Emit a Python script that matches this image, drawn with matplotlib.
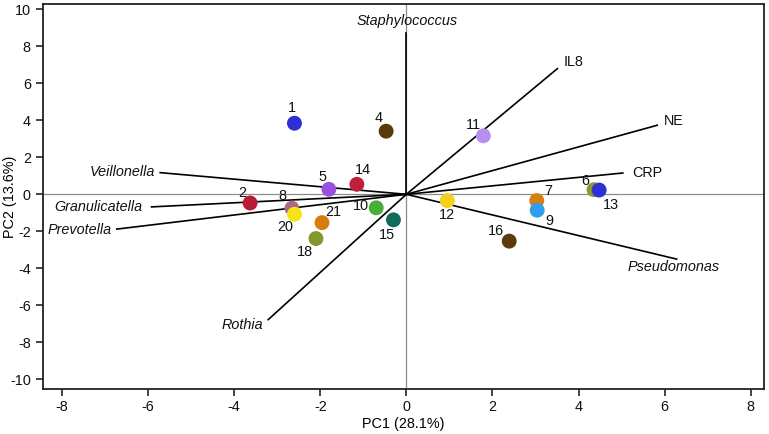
import matplotlib
matplotlib.use("Agg")
import matplotlib.pyplot as plt

plt.rcParams['font.family'] = ['Liberation Sans', 'DejaVu Sans']
plt.rcParams['axes.unicode_minus'] = False

# Sample scores
sample_ids = ["1", "2", "4", "5", "6", "7", "8", "9", "10", "11", "12", "13",
              "14", "15", "16", "18", "20", "21"]
pc1 = [-2.60, -3.63, -0.47, -1.80, 4.36, 3.03, -2.66, 3.04, -0.70, 1.79, 0.95, 4.48,
       -1.15, -0.30, 2.39, -2.10, -2.60, -1.96]
pc2 = [3.84, -0.47, 3.41, 0.27, 0.25, -0.34, -0.75, -0.86, -0.73, 3.16, -0.34, 0.23,
       0.54, -1.38, -2.53, -2.39, -1.08, -1.53]
sample_colors = ["#2e2ed2", "#b81c33", "#5b3a0c", "#9a4fdf", "#8a9a30", "#d97e12",
                 "#b06888", "#2d9fee", "#4aad36", "#b68ef0", "#f3d21f", "#2f2fd6",
                 "#c01f38", "#0e6b5d", "#5b3a0c", "#80992b", "#f7e414", "#d97c10"]

# Loading vectors
var_names = ["Staphylococcus", "IL8", "NE", "CRP", "Pseudomonas",
             "Veillonella", "Granulicatella", "Prevotella", "Rothia"]
var_x = [0.0, 3.51, 5.83, 5.03, 6.28, -5.72, -5.92, -6.73, -3.21]
var_y = [8.71, 6.79, 3.73, 1.15, -3.50, 1.17, -0.68, -1.88, -6.77]
var_italic = [True, False, False, False, True, True, True, True, True]

# label placement (pixel offsets, style)
sample_offsets = {"1": (-3, 15), "2": (-8, 10), "4": (-8, 13), "5": (-6, 12),
                  "6": (-9, 9), "7": (11, 10), "8": (-9, 12), "9": (12, -11),
                  "10": (-15, 2), "11": (-10, 11), "12": (0, -14), "13": (12, -15),
                  "14": (6, 14), "15": (-7, -15), "16": (-13, 10), "18": (-11, -13),
                  "20": (-9, -13), "21": (11, 11)}
var_label_style = {"Staphylococcus": ("center", (1, 12)),
                   "IL8": ("left", (6, 7)),
                   "NE": ("left", (7, 4)),
                   "CRP": ("left", (9, 0)),
                   "Pseudomonas": ("center", (-3, -8)),
                   "Veillonella": ("right", (-5, 1)),
                   "Granulicatella": ("right", (-9, 0)),
                   "Prevotella": ("right", (-5, -1)),
                   "Rothia": ("right", (-5, -5))}

FS = 10.4

fig = plt.figure(figsize=(7.69, 4.34), dpi=100)
ax = fig.add_axes([0.0555, 0.1044, 0.9380, 0.8864])

ax.set_xlim(-8.45, 8.31)
ax.set_ylim(-10.5, 10.28)

ax.axhline(0, color="#8c8c8c", lw=0.9, zorder=1)
ax.axvline(0, color="#8c8c8c", lw=0.9, zorder=1)

for name, vx, vy, it in zip(var_names, var_x, var_y, var_italic):
    ax.plot([0, vx], [0, vy], color="black", lw=1.2, zorder=2)
    ha, off = var_label_style[name]
    ax.annotate(name, (vx, vy), xytext=off, textcoords="offset pixels",
                ha=ha, va="center", fontsize=FS,
                fontstyle="italic" if it else "normal", color="#111111")

ax.scatter(pc1, pc2, s=115, c=sample_colors, edgecolors="none", zorder=3)
for sid, x, y in zip(sample_ids, pc1, pc2):
    ax.annotate(sid, (x, y), xytext=sample_offsets[sid], textcoords="offset pixels",
                ha="center", va="center", fontsize=FS, color="#111111")

ax.set_xticks([-8, -6, -4, -2, 0, 2, 4, 6, 8])
ax.set_yticks([-10, -8, -6, -4, -2, 0, 2, 4, 6, 8, 10])
ax.tick_params(direction="out", length=5, width=1.1, labelsize=FS, colors="#111111")
for sp in ax.spines.values():
    sp.set_linewidth(1.3)
    sp.set_color("#222222")

ax.set_xlabel("PC1 (28.1%)", fontsize=FS, labelpad=2)
ax.set_ylabel("PC2 (13.6%)", fontsize=FS)
ax.yaxis.set_label_coords(-0.036, 0.5)

fig.savefig("out.png", dpi=100)
